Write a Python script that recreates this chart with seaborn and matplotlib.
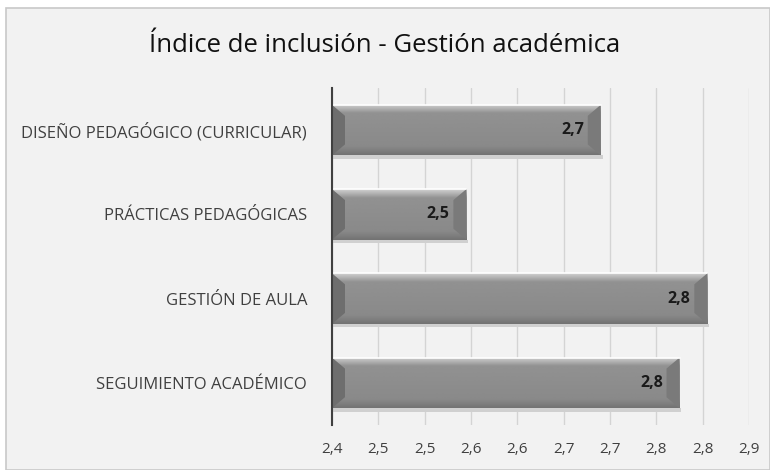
import matplotlib
matplotlib.use("Agg")
import matplotlib.pyplot as plt
import matplotlib.patches as mpatches
import seaborn as sns
import numpy as np
import pandas as pd

# Datos
categorias = ["DISEÑO PEDAGÓGICO (CURRICULAR)", "PRÁCTICAS PEDAGÓGICAS",
              "GESTIÓN DE AULA", "SEGUIMIENTO ACADÉMICO"]
valores = [2.69, 2.545, 2.805, 2.775]
etiquetas_valor = ["2,7", "2,5", "2,8", "2,8"]
ticks_x = [2.40, 2.45, 2.50, 2.55, 2.60, 2.65, 2.70, 2.75, 2.80, 2.85]
etiquetas_x = ["2,4", "2,5", "2,5", "2,6", "2,6", "2,7", "2,7", "2,8", "2,8", "2,9"]
titulo = "Índice de inclusión - Gestión académica"

df = pd.DataFrame({"categoria": categorias, "valor": valores})

sns.set_theme(style="white")
plt.rcParams["font.family"] = ["Open Sans", "DejaVu Sans"]

fondo = "#f2f2f2"
x_min, x_max = 2.4, 2.85

fig = plt.figure(figsize=(7.7, 4.7), dpi=100)
fig.patch.set_facecolor("white")
fig.add_artist(mpatches.Rectangle((6 / 770, 0), 764 / 770, 1 - 8 / 470,
                                  transform=fig.transFigure, facecolor=fondo,
                                  edgecolor="#c8c8c8", linewidth=1.2, zorder=-1))

ax = fig.add_axes([332 / 770, 1 - 425 / 470, (749 - 332) / 770, (425 - 88) / 470])
ax.set_facecolor(fondo)

sns.barplot(data=df, y="categoria", x="valor", orient="h", color="#8a8a8a",
            width=0.6, ax=ax, zorder=3, edgecolor="none")

ax.set_xlim(x_min, x_max)
ax.set_ylim(3.5, -0.5)
ax.set_xticks(ticks_x)
ax.set_xticklabels(etiquetas_x, fontsize=11, color="#404040")
ax.grid(axis="x", color="#d4d4d4", linewidth=1, zorder=0)
ax.set_xlabel("")
ax.set_ylabel("")
ax.tick_params(axis="y", labelsize=12, labelcolor="#404040", length=0, pad=18)
ax.tick_params(axis="x", length=0, pad=12)
for s in ["top", "right", "bottom"]:
    ax.spines[s].set_visible(False)
ax.spines["left"].set_color("#404040")
ax.spines["left"].set_linewidth(1.5)
ax.spines["left"].set_zorder(6)

# Degradado tipo bisel sobre cada barra (recortada al inicio del eje)
grad = np.concatenate([np.linspace(0.82, 0.57, 18), np.linspace(0.57, 0.54, 64),
                       np.linspace(0.54, 0.45, 18)])[:, None]
for bar in ax.patches:
    y0, h = bar.get_y(), bar.get_height()
    x1 = bar.get_x() + bar.get_width()
    bar.set_x(x_min)
    bar.set_width(x1 - x_min)
    im = ax.imshow(grad, cmap="gray", vmin=0, vmax=1, aspect="auto",
                   extent=(x_min, x1, y0 + h, y0), zorder=4, interpolation="bicubic")
    im.set_clip_path(bar)
    # extremos biselados
    ax.fill([x1, x1 - 0.014, x1 - 0.014, x1], [y0, y0 + 0.13, y0 + h - 0.13, y0 + h],
            color="#7a7a7a", zorder=5, lw=0)
    ax.fill([x_min, x_min + 0.014, x_min + 0.014, x_min],
            [y0, y0 + 0.13, y0 + h - 0.13, y0 + h], color="#6e6e6e", zorder=5, lw=0)
    # sombra
    ax.add_patch(mpatches.Rectangle((x_min, y0 + h), x1 - x_min + 0.002, 0.04,
                                    facecolor="#d0d0d0", edgecolor="none", zorder=2))
    ax.plot([x_min, x1], [y0, y0], color="white", lw=1.2, zorder=5)
ax.set_xlim(x_min, x_max)
ax.set_ylim(3.5, -0.5)

for i, (v, t) in enumerate(zip(valores, etiquetas_valor)):
    ax.text(v - 0.018, i, t, ha="right", va="center",
            fontsize=11.5, fontweight="bold", color="#1a1a1a", zorder=7)

fig.text(0.5, 1 - 45 / 470, titulo, ha="center", va="center", fontsize=18.5,
         fontweight="medium", color="#111111")

fig.savefig("out.png", dpi=100, facecolor=fig.get_facecolor())
